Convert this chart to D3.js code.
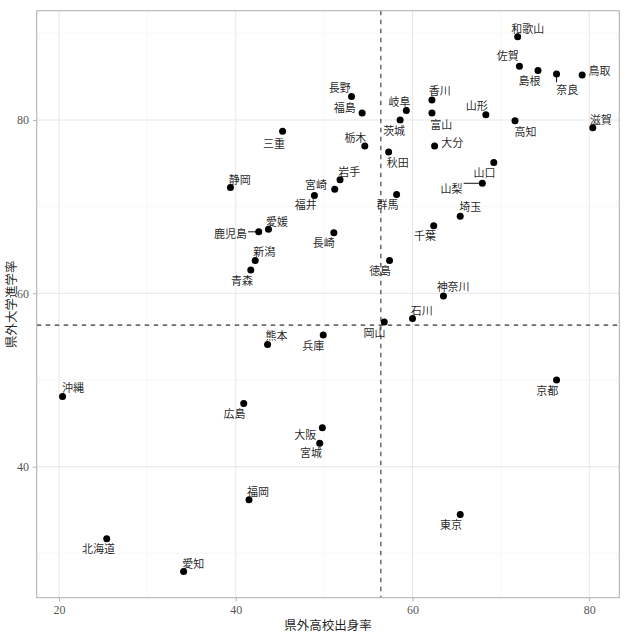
<!DOCTYPE html>
<html><head><meta charset="utf-8">
<script src="https://cdn.jsdelivr.net/npm/d3@7"></script>
<style>body{margin:0;background:#fff}svg{display:block}text{-webkit-font-smoothing:antialiased}</style>
</head><body><svg id="c" width="625" height="636"></svg>
<script>
const prefectures = ["北海道","青森","岩手","宮城","秋田","山形","福島","茨城","栃木","群馬","埼玉","千葉","東京","神奈川","新潟","富山","石川","福井","山梨","長野","岐阜","静岡","愛知","三重","滋賀","京都","大阪","兵庫","奈良","和歌山","鳥取","島根","岡山","広島","山口","徳島","香川","愛媛","高知","福岡","佐賀","長崎","熊本","大分","宮崎","鹿児島","沖縄"];
const outHighSchool = [25.4,41.7,51.8,49.5,57.3,68.3,54.3,58.6,54.6,58.2,65.4,62.4,65.4,63.5,42.2,62.2,60.0,48.9,67.9,53.1,59.3,39.4,34.1,45.3,80.4,76.3,49.8,49.9,76.3,71.9,79.2,74.2,56.8,40.9,69.2,57.4,62.2,43.7,71.6,41.5,72.1,51.1,43.6,62.5,51.2,42.6,20.4];
const outUniversity = [31.7,62.7,73.1,42.7,76.3,80.6,80.8,80.0,77.0,71.4,68.9,67.8,34.5,59.7,63.8,80.8,57.1,71.3,72.7,82.7,81.1,72.2,27.9,78.7,79.1,50.0,44.5,55.2,85.3,89.6,85.2,85.7,56.7,47.3,75.1,63.8,82.3,67.4,79.9,36.2,86.2,67.0,54.1,77.0,72.0,67.1,48.1];
const xTicks = [20,40,60,80];
const yTicks = [40,60,80];
const xMinor = [30,50,70];
const yMinor = [30,50,70,90];
const meanX = 56.42, meanY = 56.34;
const xTitle = "県外高校出身率", yTitle = "県外大学進学率";
// label placement (pixel offsets of label centre from point), as a repel layout
const labelOffsets = {
 "和歌山":[10,-8.7],"佐賀":[-11.7,-11],"島根":[-8.6,9.7],"奈良":[10.7,14.7],"鳥取":[17.3,-4.6],
 "長野":[-11.7,-10],"福島":[-17.3,-5.7],"岐阜":[-6.7,-9.7],"香川":[7.7,-9.6],"富山":[9.3,11],
 "茨城":[-6,10],"山形":[-9,-9.4],"高知":[10.4,10],"滋賀":[8,-9],"栃木":[-9.4,-9],"大分":[17.7,-3.7],
 "秋田":[9,9.7],"山口":[-9.3,9.7],"山梨":[-30.7,4.6],"岩手":[9.3,-9.3],"宮崎":[-18.7,-5.3],
 "群馬":[-9,9.7],"福井":[-8.7,8.3],"三重":[-8.7,11.3],"静岡":[9.3,-8.6],"鹿児島":[-28.3,1],
 "愛媛":[8.6,-8.7],"新潟":[9,-9],"青森":[-8.7,9.7],"熊本":[9,-10],"沖縄":[10.4,-9.3],"広島":[-9.3,9.6],
 "埼玉":[10,-10.6],"千葉":[-8.6,9.3],"長崎":[-10,9.6],"徳島":[-9.4,9.4],"神奈川":[9.7,-10.4],
 "石川":[9.3,-9],"岡山":[-9.7,10.4],"兵庫":[-10,9.7],"京都":[-9.3,10.4],"大阪":[-17,6.7],
 "宮城":[-8.7,8.7],"福岡":[9,-9],"北海道":[-8.3,9.3],"愛知":[9.6,-9],"東京":[-9.3,9.4]
};
const data = prefectures.map((p,i)=>({name:p,x:outHighSchool[i],y:outUniversity[i]}));

const svg = d3.select("#c");
const L=36.7,R=619.3,T=10.7,B=597.7;
const x = d3.scaleLinear().domain([17.475,83.40]).range([L,R]);
const y = d3.scaleLinear().domain([24.89,92.61]).range([B,T]);
const font = "'Liberation Serif','Noto Sans CJK JP',serif";
const cjk = "'Noto Sans CJK JP','Liberation Serif',serif";

const g = svg.append("g");
g.append("rect").attr("x",L).attr("y",T).attr("width",R-L).attr("height",B-T).attr("fill","#fff");
g.selectAll(".mx").data(xMinor).join("line").attr("x1",d=>x(d)).attr("x2",d=>x(d)).attr("y1",T).attr("y2",B).attr("stroke","#f2f2f2").attr("stroke-width",0.6);
g.selectAll(".my").data(yMinor).join("line").attr("y1",d=>y(d)).attr("y2",d=>y(d)).attr("x1",L).attr("x2",R).attr("stroke","#f2f2f2").attr("stroke-width",0.6);
g.selectAll(".gx").data(xTicks).join("line").attr("x1",d=>x(d)).attr("x2",d=>x(d)).attr("y1",T).attr("y2",B).attr("stroke","#e6e6e6").attr("stroke-width",1);
g.selectAll(".gy").data(yTicks).join("line").attr("y1",d=>y(d)).attr("y2",d=>y(d)).attr("x1",L).attr("x2",R).attr("stroke","#e6e6e6").attr("stroke-width",1);

const xAxis = svg.append("g").attr("transform",`translate(0,${B})`).call(d3.axisBottom(x).tickValues(xTicks).tickSize(3.7).tickPadding(4));
const yAxis = svg.append("g").attr("transform",`translate(${L},0)`).call(d3.axisLeft(y).tickValues(yTicks).tickSize(3.7).tickPadding(4));
[xAxis,yAxis].forEach(a=>{a.select(".domain").remove();a.selectAll("line").attr("stroke","#b3b3b3");
 a.selectAll("text").attr("fill","#4d4d4d").attr("fill-opacity",0.99).attr("font-size",12).attr("font-family",font);});

svg.append("line").attr("x1",x(meanX)).attr("x2",x(meanX)).attr("y1",T).attr("y2",B).attr("stroke","#333").attr("stroke-width",1.1).attr("stroke-dasharray","4.5,4.5");
svg.append("line").attr("y1",y(meanY)).attr("y2",y(meanY)).attr("x1",L).attr("x2",R).attr("stroke","#333").attr("stroke-width",1.1).attr("stroke-dasharray","4.5,4.5");

svg.append("rect").attr("x",L).attr("y",T).attr("width",R-L).attr("height",B-T).attr("fill","none").attr("stroke","#b3b3b3").attr("stroke-width",1.1);

const fs = 11;
const lab = svg.append("g").attr("opacity",0.999);
data.forEach(d=>{
  const px=x(d.x), py=y(d.y);
  const off = labelOffsets[d.name]||[0,-10];
  const cx=px+off[0], cy=py+off[1];
  const hw = d.name.length*fs/2+1, hh = fs/2+1;
  const nx = Math.max(cx-hw, Math.min(px, cx+hw)), ny = Math.max(cy-hh, Math.min(py, cy+hh));
  const dist = Math.hypot(nx-px, ny-py);
  if (dist > 8) {
    lab.append("line").attr("x1",px).attr("y1",py).attr("x2",nx).attr("y2",ny).attr("stroke","#111").attr("stroke-width",1);
  }
  lab.append("text").attr("x",cx).attr("y",cy).attr("text-anchor","middle").attr("dominant-baseline","central")
    .attr("font-size",fs).attr("font-family",cjk).attr("fill","#1a1a1a").attr("fill-opacity",0.99).text(d.name);
});
svg.append("g").selectAll("circle").data(data).join("circle").attr("cx",d=>x(d.x)).attr("cy",d=>y(d.y)).attr("r",3.5).attr("fill","#000");

svg.append("text").attr("x",(L+R)/2).attr("y",630).attr("text-anchor","middle").attr("font-size",12.5).attr("font-family",cjk).attr("fill","#1a1a1a").attr("fill-opacity",0.99).text(xTitle);
svg.append("text").attr("transform",`translate(10,${(T+B)/2}) rotate(-90)`).attr("text-anchor","middle").attr("dominant-baseline","central").attr("font-size",12.5).attr("font-family",cjk).attr("fill","#1a1a1a").attr("fill-opacity",0.99).text(yTitle);
</script></body></html>
